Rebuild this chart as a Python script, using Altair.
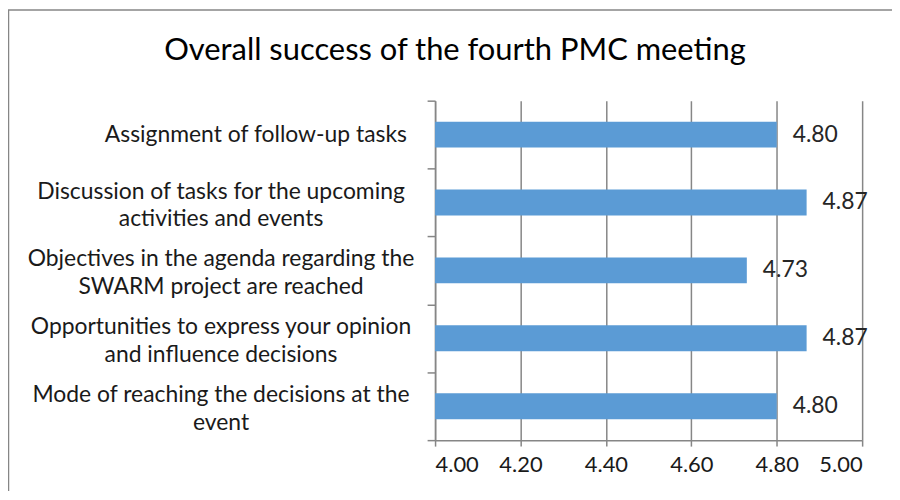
import altair as alt
import pandas as pd

categories = [
    "Assignment of follow-up tasks",
    "Discussion of tasks for the upcoming|activities and events",
    "Objectives in the agenda regarding the|SWARM project are reached",
    "Opportunities to express your opinion|and influence decisions",
    "Mode of reaching the decisions at the|event",
]
values = [4.80, 4.87, 4.73, 4.87, 4.80]
labels = ["4.80", "4.87", "4.73", "4.87", "4.80"]
x_ticks = [4.0, 4.2, 4.4, 4.6, 4.8, 5.0]
title_text = "Overall success of the fourth PMC meeting"

df = pd.DataFrame({"cat": categories, "val": values, "lab": labels})

FONT = "Lato"
GRAY = "#868686"

y_enc = alt.Y(
    "cat:N",
    sort=categories,
    title=None,
    scale=alt.Scale(paddingInner=0, paddingOuter=0),
    axis=alt.Axis(
        labels=False,
        tickBand="extent",
        tickSize=8,
        tickColor=GRAY,
        tickWidth=1.5,
        domainColor=GRAY,
        domainWidth=1.5,
        grid=False,
    ),
)

x_enc = alt.X(
    "val:Q",
    title=None,
    scale=alt.Scale(domain=[4, 5], nice=False, zero=False),
    axis=alt.Axis(
        values=x_ticks,
        format=".2f",
        labelFont=FONT,
        labelFontSize=22,
        labelColor="#1a1a1a",
        labelPadding=9,
        tickSize=6,
        tickColor=GRAY,
        tickWidth=1.5,
        domainColor=GRAY,
        domainWidth=1.5,
        grid=True,
        gridColor=GRAY,
        gridWidth=1.5,
    ),
)

bars = alt.Chart(df).mark_bar(color="#5B9BD5", size=26).encode(
    y=y_enc, x=x_enc, x2=alt.datum(4)
)

text = alt.Chart(df).mark_text(
    align="left", dx=16, font=FONT, fontSize=23, color="#262626"
).encode(y=alt.Y("cat:N", sort=categories), x=alt.X("val:Q"), text="lab:N")

label_style = dict(
    align="center", baseline="middle", lineBreak="|", lineHeight=28,
    font=FONT, fontSize=23, color="#1a1a1a",
)
single = "datum.cat == 'Assignment of follow-up tasks'"

cat_labels_1 = alt.Chart(df).transform_filter(single).mark_text(**label_style).encode(
    y=alt.Y("cat:N", sort=categories), x=alt.value(-180), text="cat:N"
)
cat_labels_2 = alt.Chart(df).transform_filter("!(" + single + ")").mark_text(
    dy=-11, **label_style
).encode(
    y=alt.Y("cat:N", sort=categories), x=alt.value(-215), text="cat:N"
)

one = pd.DataFrame({"t": [title_text]})

border = alt.Chart(one).mark_rect(
    fill=None, stroke=GRAY, strokeWidth=1.5
).encode(
    x=alt.value(-428.5), x2=alt.value(460), y=alt.value(-91), y2=alt.value(450)
)

title = alt.Chart(one).mark_text(
    align="center", baseline="middle", font=FONT, fontSize=31, color="#000000"
).encode(x=alt.value(20), y=alt.value(-50), text="t:N")

chart = alt.layer(border, bars, text, cat_labels_1, cat_labels_2, title).properties(
    width=429,
    height=341,
    autosize=alt.AutoSizeParams(type="none"),
    padding={"left": 429, "top": 92, "right": 30, "bottom": 50},
).configure_view(stroke=None)

chart.save("out.html", embed_options={"renderer": "svg", "actions": False})
